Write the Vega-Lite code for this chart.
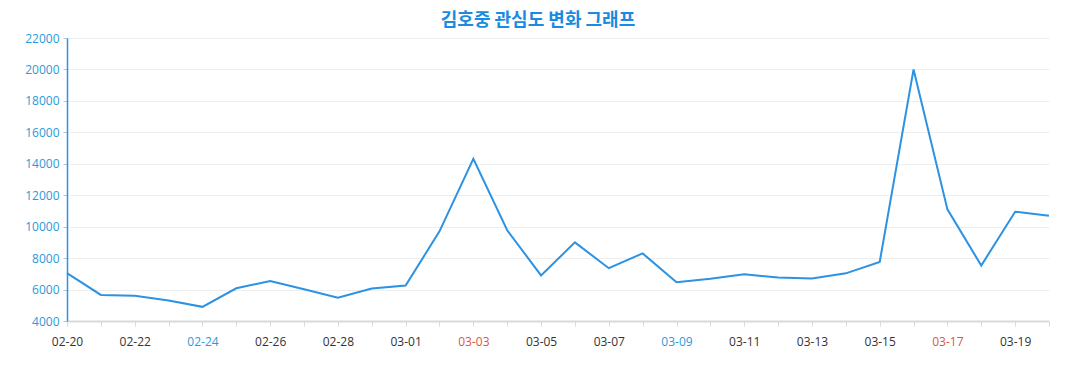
{
  "$schema": "https://vega.github.io/schema/vega-lite/v6.json",
  "width": 982,
  "height": 283,
  "autosize": {"type": "none"},
  "padding": {"left": 67, "top": 38, "right": 28, "bottom": 69},
  "background": "white",
  "title": {
    "text": "김호중 관심도 변화 그래프",
    "font": "Noto Sans CJK KR",
    "fontSize": 18,
    "fontWeight": "bold",
    "color": "#1a8be0",
    "anchor": "middle",
    "dx": -20,
    "offset": 2
  },
  "data": {
    "values": [
      {"date": "02-20", "value": 7050},
      {"date": "02-21", "value": 5660},
      {"date": "02-22", "value": 5600},
      {"date": "02-23", "value": 5300},
      {"date": "02-24", "value": 4900},
      {"date": "02-25", "value": 6080},
      {"date": "02-26", "value": 6550},
      {"date": "02-27", "value": 6020},
      {"date": "02-28", "value": 5480},
      {"date": "02-29", "value": 6060},
      {"date": "03-01", "value": 6260},
      {"date": "03-02", "value": 9700},
      {"date": "03-03", "value": 14320},
      {"date": "03-04", "value": 9770},
      {"date": "03-05", "value": 6900},
      {"date": "03-06", "value": 9000},
      {"date": "03-07", "value": 7360},
      {"date": "03-08", "value": 8300},
      {"date": "03-09", "value": 6460},
      {"date": "03-10", "value": 6680},
      {"date": "03-11", "value": 6970},
      {"date": "03-12", "value": 6770},
      {"date": "03-13", "value": 6700},
      {"date": "03-14", "value": 7030},
      {"date": "03-15", "value": 7750},
      {"date": "03-16", "value": 20000},
      {"date": "03-17", "value": 11100},
      {"date": "03-18", "value": 7530},
      {"date": "03-19", "value": 10950},
      {"date": "03-20", "value": 10700}
    ]
  },
  "mark": {"type": "line", "color": "#2b92e4", "strokeWidth": 2},
  "encoding": {
    "x": {
      "field": "date",
      "type": "ordinal",
      "sort": null,
      "scale": {"type": "point", "padding": 0},
      "axis": {
        "title": null,
        "labelAngle": 0,
        "labelFont": "Open Sans",
        "labelFontSize": 12,
        "labelPadding": 10,
        "labelExpr": "indexof(['02-20','02-22','02-24','02-26','02-28','03-01','03-03','03-05','03-07','03-09','03-11','03-13','03-15','03-17','03-19'], datum.value) < 0 ? '' : datum.label",
        "labelColor": {
          "condition": [
            {"test": "datum.value == '02-24' || datum.value == '03-09'", "value": "#2b9ad8"},
            {"test": "datum.value == '03-03' || datum.value == '03-17'", "value": "#e0553a"}
          ],
          "value": "#333333"
        },
        "labelOverlap": false,
        "domainColor": "#d9d9d9",
        "domainWidth": 2,
        "tickColor": "#d9d9d9",
        "tickSize": 5,
        "grid": false
      }
    },
    "y": {
      "field": "value",
      "type": "quantitative",
      "scale": {"domain": [4000, 22000], "nice": false, "zero": false},
      "axis": {
        "title": null,
        "format": "d",
        "values": [4000, 6000, 8000, 10000, 12000, 14000, 16000, 18000, 20000, 22000],
        "labelFont": "Open Sans",
        "labelFontSize": 12,
        "labelColor": "#2b9ad8",
        "labelPadding": 4,
        "domainColor": "#2b92e4",
        "domainWidth": 1.5,
        "tickColor": "#aac8e0",
        "tickSize": 4,
        "gridColor": "#eeeeee",
        "gridWidth": 1
      }
    }
  },
  "config": {"view": {"stroke": null}}
}
